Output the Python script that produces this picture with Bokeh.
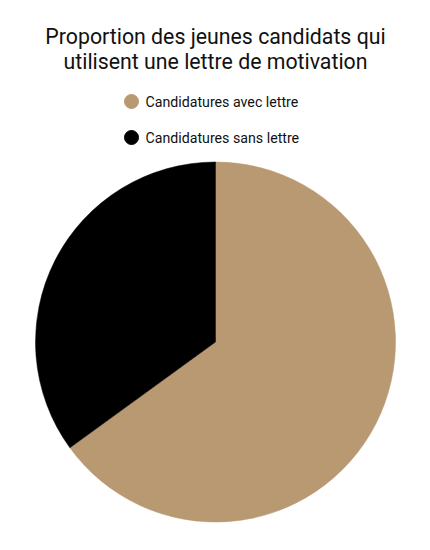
import math
from bokeh.plotting import figure
from bokeh.models import Range1d, ColumnDataSource
from bokeh.core.properties import value
from bokeh.embed import file_html
from bokeh.resources import INLINE

title_lines = ["Proportion des jeunes candidats qui", "utilisent une lettre de motivation"]
categories = ["Candidatures avec lettre", "Candidatures sans lettre"]
shares = [65, 35]
colors = ["#b89971", "#000000"]

W, H = 414, 534
p = figure(width=W, height=H, output_backend="svg", toolbar_location=None,
           x_range=Range1d(0, W), y_range=Range1d(0, H), min_border=0)
p.axis.visible = False
p.grid.visible = False
p.outline_line_color = None
p.background_fill_color = "white"
p.border_fill_color = "white"

def py(y):  # page y -> data y
    return H - y
def px(x):
    return x

# pie: clockwise from top
total = sum(shares)
starts, ends = [], []
a = math.pi / 2
for s in shares:
    sweep = 2 * math.pi * s / total
    ends.append(a)
    starts.append(a - sweep)
    a -= sweep
src = ColumnDataSource(dict(start=starts, end=ends, color=colors, cat=categories))
p.wedge(x=px(215), y=py(341.5), radius=180, start_angle="start", end_angle="end",
        fill_color="color", line_color="color", line_width=0.5, source=src)

# title
p.text(x=[px(215), px(215)], y=[py(36), py(61)], text=title_lines,
       text_align="center", text_baseline="middle", text_font=value("Roboto"),
       text_font_size="21.3px", text_color="#111111")

# legend
ly = [py(101 + 36 * i) for i in range(len(categories))]
p.scatter(x=[px(131)] * len(categories), y=ly, size=14, marker="circle",
          fill_color=colors, line_color=colors)
p.text(x=[px(145)] * len(categories), y=ly, text=categories, text_align="left",
       text_baseline="middle", text_font=value("Roboto"), text_font_size="14.2px",
       text_color="#111111")

open("out.html", "w").write(file_html(p, INLINE))
